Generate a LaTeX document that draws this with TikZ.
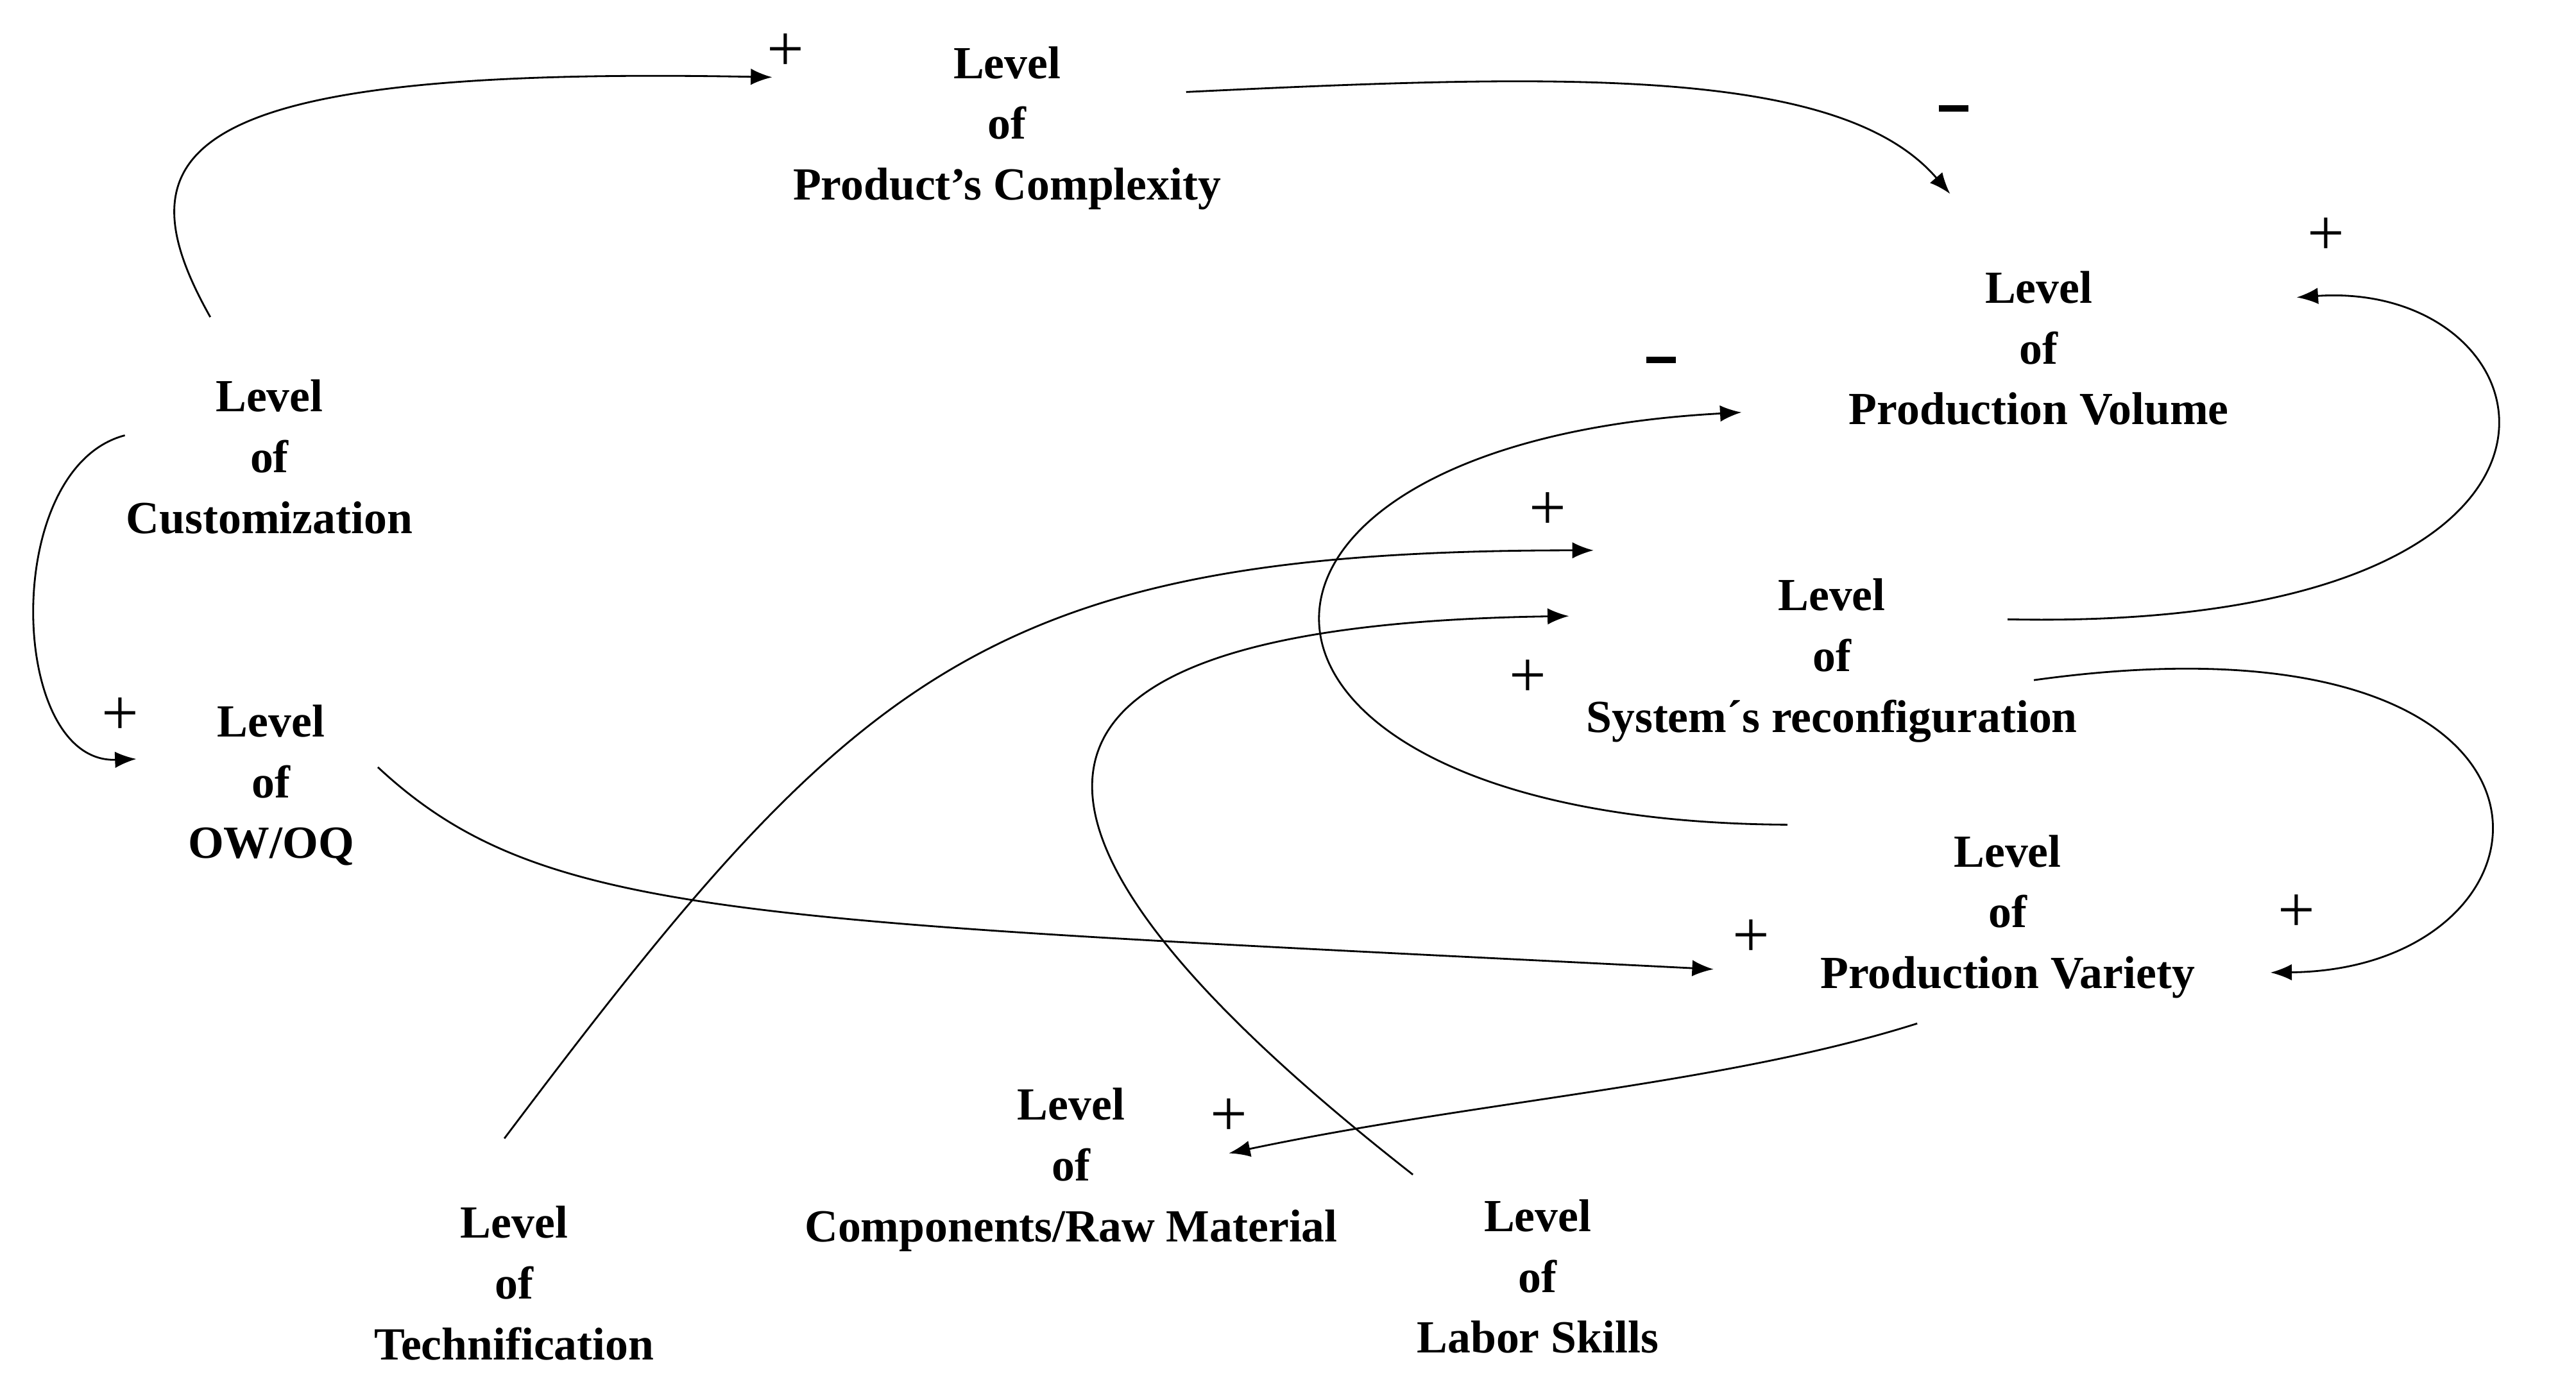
\documentclass[tikz,border=0pt]{standalone}
\usepackage{fontspec}
\setmainfont{Liberation Serif}
\usetikzlibrary{arrows.meta}
\begin{document}
\begin{tikzpicture}[x=1pt,y=-1pt,
  lbl/.style={font=\fontsize{28}{37}\selectfont\bfseries,align=center},
  sgn/.style={font=\fontsize{40}{40}\selectfont},
  arr/.style={line width=1.1pt,-{Latex[length=13pt,width=10pt]}},
  ln/.style={line width=1.1pt}]
\useasboundingbox (0,0) rectangle (1568,845.5);
\node[lbl] (pc) at (613,78) {Level\\of\\Product’s Complexity};
\node[lbl] (pv) at (1241,212) {Level\\of\\Production Volume};
\node[lbl] (cu) at (164,278) {Level\\of\\Customization};
\node[lbl] (sr) at (1115,402) {Level\\of\\System´s reconfiguration};
\node[lbl] (ow) at (165,478) {Level\\of\\OW/OQ};
\node[lbl] (va) at (1222,558) {Level\\of\\Production Variety};
\node[lbl] (cm) at (652,712) {Level\\of\\Components/Raw Material};
\node[lbl] (te) at (313,781) {Level\\of\\Technification};
\node[lbl] (ls) at (936,777) {Level\\of\\Labor Skills};
% endpoints
\coordinate (a1s) at (128,193); \coordinate (a1e) at (470,47);
\coordinate (a2s) at (722,56);  \coordinate (a2e) at (1187,118);
\coordinate (a3s) at (76,265);  \coordinate (a3e) at (83,462);
\coordinate (a4s) at (230,467); \coordinate (a4e) at (1043,590);
\coordinate (a5s) at (307,693); \coordinate (a5e) at (970,335);
\coordinate (a6s) at (860,715); \coordinate (a6e) at (955,375);
\coordinate (a7s) at (1088,502);\coordinate (a7e) at (1060,251);
\coordinate (a8s) at (1222,377);\coordinate (a8e) at (1398,181);
\coordinate (a9s) at (1238,414);\coordinate (a9e) at (1382,592);
\coordinate (a10s) at (1167,623);\coordinate (a10e) at (748,702);
\draw[arr] (a1s) .. controls (70,90) and (110,40) .. (a1e);
\draw[arr] (a2s) .. controls (950,45) and (1120,40) .. (a2e);
\draw[arr] (a3s) .. controls (0,285) and (5,465) .. (a3e);
\draw[arr] (a4s) .. controls (330,560) and (450,560) .. (a4e);
\draw[arr] (a5s) .. controls (520,410) and (600,335) .. (a5e);
\draw[arr] (a6s) .. controls (560,480) and (620,380) .. (a6e);
\draw[arr] (a7s) .. controls (720,500) and (710,270) .. (a7e);
\draw[arr] (a8s) .. controls (1610,385) and (1560,170) .. (a8e);
\draw[arr] (a9s) .. controls (1590,365) and (1570,590) .. (a9e);
\draw[arr] (a10s) .. controls (1050,660) and (900,670) .. (a10e);
\node[sgn] (p1) at (478,32) {+};
\node[sgn] (m2) at (1189,66) {\rule{18pt}{4pt}};
\node[sgn] (p3) at (73,436) {+};
\node[sgn] (p4) at (1066,571) {+};
\node[sgn] (p5) at (942,311) {+};
\node[sgn] (p6) at (930,413) {+};
\node[sgn] (m7) at (1011,219) {\rule{18pt}{4pt}};
\node[sgn] (p8) at (1416,144) {+};
\node[sgn] (p9) at (1398,556) {+};
\node[sgn] (p10) at (748,680) {+};
\end{tikzpicture}
\end{document}
